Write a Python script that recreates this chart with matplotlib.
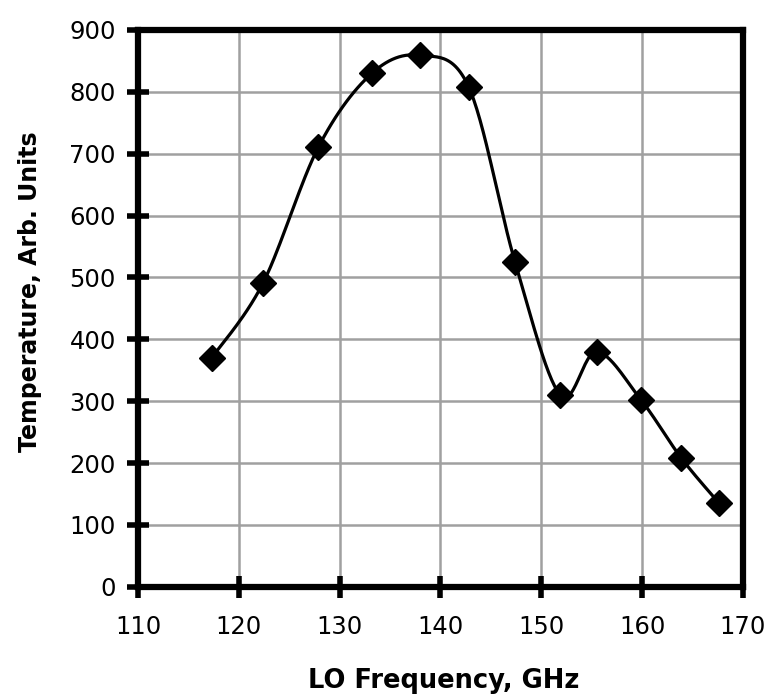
import matplotlib.pyplot as plt
import numpy as np

plt.rcParams["font.family"] = ["DejaVu Sans"]

freq_ghz = [117.3, 122.4, 127.9, 133.2, 138.0, 142.8, 147.4, 151.9, 155.5, 159.9, 163.9, 167.6]
temperature = [370, 491, 711, 830, 859, 808, 525, 310, 380, 302, 208, 136]

x_ticks = [110, 120, 130, 140, 150, 160, 170]
y_ticks = [0, 100, 200, 300, 400, 500, 600, 700, 800, 900]


def smooth_line(x, y, n=30):
    # Excel-like smoothed line: Catmull-Rom segments as cubic Bezier
    x = np.asarray(x, float)
    y = np.asarray(y, float)
    px = np.concatenate([[x[0]], x, [x[-1]]])
    py = np.concatenate([[y[0]], y, [y[-1]]])
    t = np.linspace(0, 1, n)[:, None]
    xs, ys = [], []
    for i in range(1, len(px) - 2):
        p0 = np.array([px[i], py[i]])
        p3 = np.array([px[i + 1], py[i + 1]])
        p1 = p0 + (p3 - np.array([px[i - 1], py[i - 1]])) / 6.0
        p2 = p3 - (np.array([px[i + 2], py[i + 2]]) - p0) / 6.0
        seg = ((1 - t) ** 3) * p0 + 3 * ((1 - t) ** 2) * t * p1 + 3 * (1 - t) * t ** 2 * p2 + t ** 3 * p3
        xs.append(seg[:, 0])
        ys.append(seg[:, 1])
    return np.concatenate(xs), np.concatenate(ys)


fig = plt.figure(figsize=(7.69, 6.97), dpi=100)
ax = fig.add_axes([0.1795, 0.158, 0.7865, 0.799])

sx, sy = smooth_line(freq_ghz, temperature)
ax.plot(sx, sy, color="black", lw=2.3, zorder=3)
ax.plot(freq_ghz, temperature, linestyle="none", marker="D", markersize=13,
        color="black", zorder=4)

ax.set_xlim(110, 170)
ax.set_ylim(0, 900)
ax.set_xticks(x_ticks)
ax.set_yticks(y_ticks)
ax.grid(True, color="#a0a0a0", lw=1.8)
ax.set_axisbelow(True)

for side in ["left", "bottom", "top", "right"]:
    ax.spines[side].set_linewidth(4.5)
    ax.spines[side].set_color("black")

ax.tick_params(axis="both", direction="inout", length=16, width=4,
               labelsize=17.5, colors="black")
ax.tick_params(axis="x", pad=12)
ax.tick_params(axis="y", pad=8)

ax.set_xlabel("LO Frequency, GHz", fontsize=18.5, fontweight="bold")
ax.set_ylabel("Temperature, Arb. Units", fontsize=17, fontweight="bold")
ax.xaxis.set_label_coords(0.505, -0.145)
ax.yaxis.set_label_coords(-0.158, 0.53)

fig.savefig("out.png", dpi=100)
